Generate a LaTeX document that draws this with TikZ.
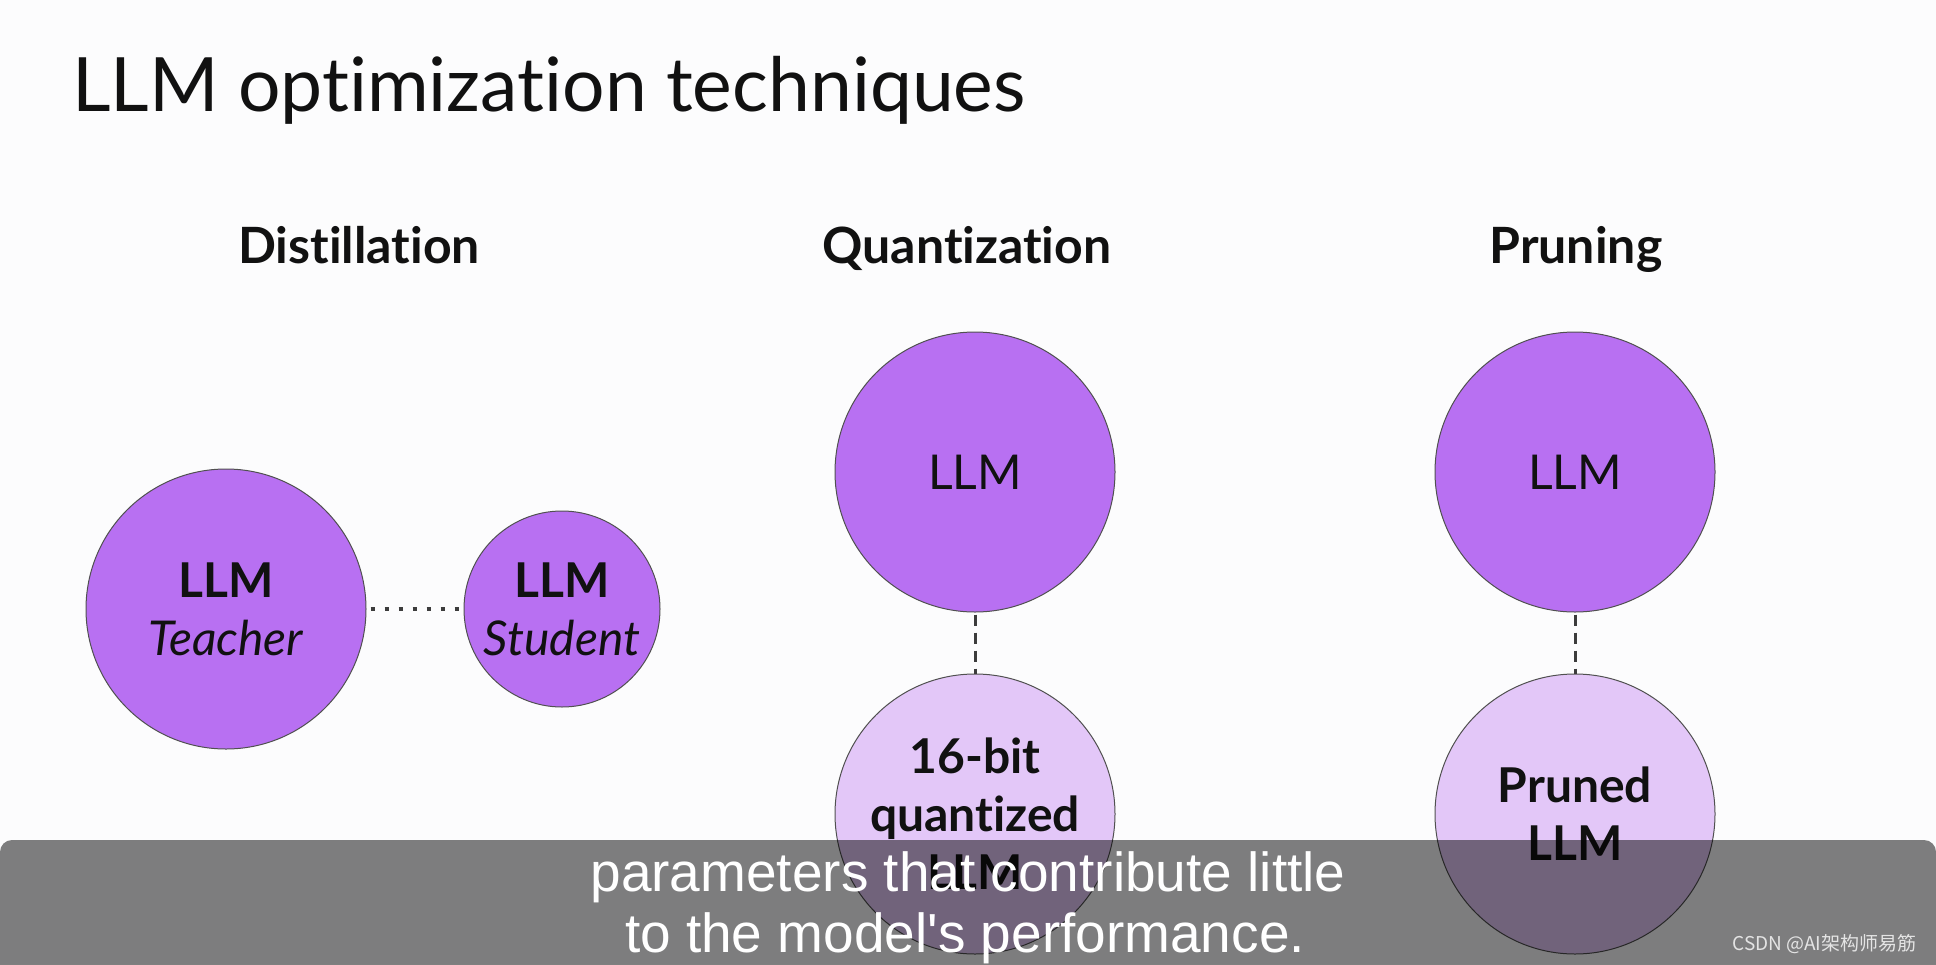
\documentclass[tikz,border=0pt]{standalone}
\usepackage{fontspec}
\setmainfont{Lato}[Ligatures={NoCommon}]
\newfontfamily\subfont{Liberation Sans}
\newfontfamily\cjkfont{Noto Sans CJK SC}
\definecolor{bgcol}{HTML}{FCFCFD}
\definecolor{purp}{HTML}{B870F2}
\definecolor{lpurp}{HTML}{E3C7F8}
\definecolor{circline}{HTML}{505050}
\definecolor{linecol}{HTML}{3C3C3C}
\definecolor{wmcol}{HTML}{E4E4E4}
\definecolor{txt}{HTML}{111111}
\newcommand{\titlefnt}{\fontsize{75}{80}\selectfont}
\newcommand{\headfnt}{\bfseries\fontsize{50}{56}\selectfont}
\newcommand{\circfnt}{\fontsize{48}{58}\selectfont}
\newcommand{\subfnt}{\subfont\fontsize{55}{60}\selectfont}
\begin{document}
\begin{tikzpicture}[x=1pt,y=-1pt,
  circ/.style={circle, draw=circline, line width=1pt, inner sep=0pt, align=center, font=\circfnt, text=txt},
  bigcirc/.style={circ, minimum size=280pt},
  smallcirc/.style={circ, minimum size=196pt},
  dotline/.style={draw=linecol, line width=4pt, dash pattern=on 4pt off 10pt, dash phase=-4pt},
  dashline/.style={draw=linecol, line width=3pt, dash pattern=on 11pt off 7pt, dash phase=-2pt},
  heading/.style={anchor=base, font=\headfnt, text=txt},
  subline/.style={anchor=base, font=\subfnt, text=white}]
\fill[bgcol] (0,0) rectangle (1936,964);
\useasboundingbox (0,0) rectangle (1936,964);

\node[anchor=base west, font=\titlefnt, text=txt, inner sep=0pt] (title) at (72,111) {LLM optimization techniques};

\node[heading] (hdist) at (359,263) {Distillation};
\node[heading] (hquant) at (967,263) {Quantization};
\node[heading] (hprune) at (1576,263) {Pruning};

\node[bigcirc, fill=purp] (teacher) at (226,609) {\textbf{LLM}\\\textit{Teacher}};
\node[smallcirc, fill=purp] (student) at (562,609) {\textbf{LLM}\\\textit{Student}};
\draw[dotline] (teacher.east) -- (student.west);

\node[bigcirc, fill=purp] (qtop) at (975,472) {LLM};
\node[bigcirc, fill=lpurp, font=\circfnt\bfseries] (qbot) at (975,814) {16-bit\\quantized\\LLM};
\draw[dashline] (qtop.south) -- (qbot.north);

\node[bigcirc, fill=purp] (ptop) at (1575,472) {LLM};
\node[bigcirc, fill=lpurp, font=\circfnt\bfseries] (pbot) at (1575,814) {Pruned\\LLM};
\draw[dashline] (ptop.south) -- (pbot.north);

\fill[black, opacity=0.5, rounded corners=12pt] (0,840) rectangle (1936,1000);

\node[subline] (sub1) at (968,891) {parameters that contribute little};
\node[subline] (sub2) at (965,952) {to the model's performance.};
\node[anchor=base east, font=\cjkfont\fontsize{19}{22}\selectfont, text=wmcol] (wm) at (1920,950) {CSDN @AI架构师易筋};
\end{tikzpicture}
\end{document}
